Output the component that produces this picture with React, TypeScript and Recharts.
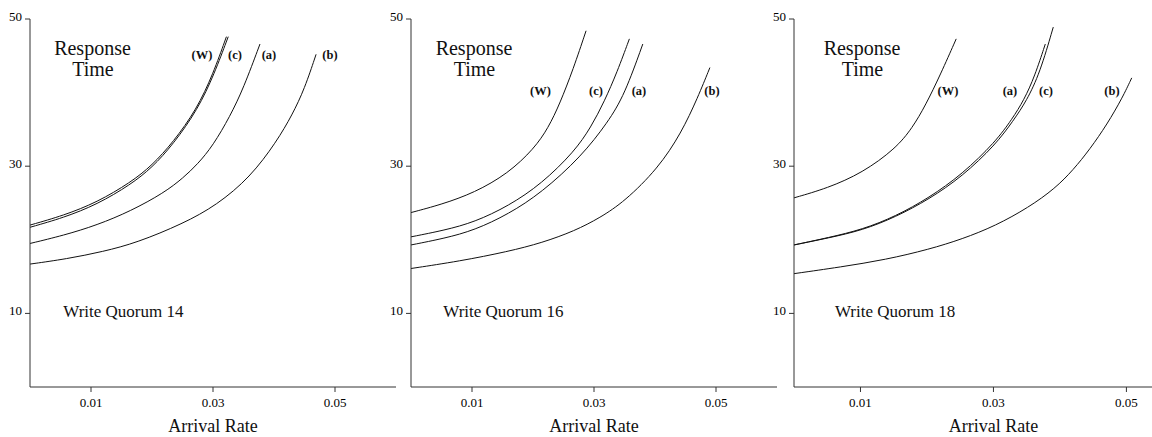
import React from 'react';
import { LineChart, Line, XAxis, YAxis } from 'recharts';

// ---------- data ----------
const xTicks = [0.01, 0.03, 0.05];
const yTicks = [10, 30, 50];
const quorums = [14, 16, 18];

// Write Quorum 14
const q14W: [number, number][] = [[0, 22.0], [0.0055, 23.3], [0.011, 25.1], [0.0165, 27.8], [0.02, 30.1], [0.0235, 33.3], [0.0273, 37.7], [0.03, 42.5], [0.0322, 47.6]];
const q14C: [number, number][] = [[0, 21.7], [0.0055, 23.0], [0.011, 24.8], [0.0165, 27.5], [0.02, 29.8], [0.0235, 33.0], [0.0275, 37.7], [0.0302, 42.5], [0.0325, 47.6]];
const q14A: [number, number][] = [[0, 19.5], [0.0055, 20.6], [0.011, 22.0], [0.0165, 23.9], [0.022, 26.4], [0.0251, 28.4], [0.0275, 30.3], [0.03, 32.8], [0.0328, 36.8], [0.035, 40.6], [0.0377, 46.6]];
const q14B: [number, number][] = [[0, 16.7], [0.006, 17.4], [0.012, 18.4], [0.0175, 19.6], [0.0251, 22.2], [0.0306, 24.7], [0.0361, 28.5], [0.0404, 33.3], [0.043, 37.0], [0.045, 40.5], [0.0469, 45.2]];

// Write Quorum 16
const q16W: [number, number][] = [[0, 23.7], [0.005, 24.8], [0.0104, 26.4], [0.0159, 29.0], [0.0202, 32.4], [0.0225, 35.2], [0.0244, 38.5], [0.0266, 43.2], [0.0287, 48.4]];
const q16C: [number, number][] = [[0, 20.4], [0.0055, 21.3], [0.0104, 22.4], [0.016, 24.6], [0.0214, 27.6], [0.0268, 32.0], [0.0295, 35.3], [0.0317, 38.8], [0.0338, 42.8], [0.0358, 47.3]];
const q16A: [number, number][] = [[0, 19.3], [0.0055, 20.2], [0.0104, 21.3], [0.016, 23.5], [0.0214, 26.4], [0.0279, 31.3], [0.0323, 36.0], [0.035, 39.7], [0.038, 46.6]];
const q16B: [number, number][] = [[0, 16.1], [0.008, 17.1], [0.0159, 18.4], [0.0215, 19.6], [0.0268, 21.2], [0.031, 23.0], [0.035, 25.2], [0.0405, 29.7], [0.0443, 34.5], [0.047, 39.3], [0.049, 43.4]];

// Write Quorum 18
const q18W: [number, number][] = [[0, 25.7], [0.005, 27.0], [0.0103, 29.1], [0.0153, 32.4], [0.0178, 35.2], [0.0198, 38.3], [0.022, 42.4], [0.0244, 47.3]];
const q18A: [number, number][] = [[0, 19.3], [0.0052, 20.3], [0.0103, 21.4], [0.0153, 23.2], [0.0203, 25.7], [0.0253, 28.9], [0.0303, 33.3], [0.0328, 36.4], [0.0346, 39.0], [0.0362, 42.2], [0.0378, 46.6]];
const q18C: [number, number][] = [[0, 19.3], [0.0052, 20.25], [0.0103, 21.3], [0.0153, 23.1], [0.0203, 25.5], [0.0253, 28.6], [0.0303, 32.9], [0.033, 36.2], [0.035, 38.9], [0.037, 42.7], [0.039, 48.9]];
const q18B: [number, number][] = [[0, 15.4], [0.007, 16.3], [0.0138, 17.3], [0.0203, 18.7], [0.0253, 20.1], [0.0303, 21.9], [0.0353, 24.4], [0.0393, 27.0], [0.042, 29.5], [0.0445, 32.3], [0.0471, 35.7], [0.0494, 39.3], [0.0508, 42.0]];

const seriesByPanel = [
  { W: q14W, c: q14C, a: q14A, b: q14B },
  { W: q16W, c: q16C, a: q16A, b: q16B },
  { W: q18W, c: q18C, a: q18A, b: q18B },
];

// ---------- layout ----------
const FONT = '"Liberation Serif", "Times New Roman", Times, serif';
const H = 437;
const panels = [
  { left: 0, yw: 30, width: 396, xMax: 0.06, titleX: 92.5, wqX: 63.3, arrX: 213, labelY: 58.5, labels: { W: 202, c: 235, a: 269, b: 330 } },
  { left: 380, yw: 31, width: 397, xMax: 0.06, titleX: 474, wqX: 443.3, arrX: 594, labelY: 95, labels: { W: 540.5, c: 596, a: 639, b: 712 } },
  { left: 760, yw: 34, width: 393, xMax: 0.054, titleX: 862, wqX: 835, arrX: 993.5, labelY: 95, labels: { W: 948, a: 1010, c: 1046, b: 1112 } },
];

const toObjs = (arr: [number, number][]) => arr.map(([x, y]) => ({ x, y }));
const fmt = (v: number) => v.toFixed(2);

const XTick = (props: any) => {
  const { x, y, payload } = props;
  return (
    <text x={x} y={y + 13} textAnchor="middle" fontFamily={FONT} fontSize={13} fill="#000">
      {fmt(payload.value)}
    </text>
  );
};
const YTick = (props: any) => {
  const { x, y, payload } = props;
  return (
    <text x={x - 1} y={y + 2} textAnchor="end" fontFamily={FONT} fontSize={13} fill="#000">
      {payload.value}
    </text>
  );
};

function Panel({ idx }: { idx: number }) {
  const p = panels[idx];
  const s = seriesByPanel[idx];
  const keys = ['W', 'c', 'a', 'b'] as const;
  return (
    <div style={{ position: 'absolute', left: p.left, top: 0 }}>
      <LineChart width={p.width} height={H} margin={{ top: 19, right: 0, bottom: 0, left: 0 }}>
        <XAxis
          type="number"
          dataKey="x"
          domain={[0, p.xMax]}
          ticks={xTicks}
          allowDataOverflow
          height={50}
          tickSize={5}
          tickMargin={2}
          stroke="#333"
          tick={<XTick />}
        />
        <YAxis
          type="number"
          domain={[0, 50]}
          ticks={yTicks}
          width={p.yw}
          tickSize={5}
          tickMargin={2}
          stroke="#333"
          allowDataOverflow
          tick={<YTick />}
        />
        {keys.map((k) => (
          <Line
            key={k}
            data={toObjs(s[k])}
            dataKey="y"
            type="basis"
            stroke="#111"
            strokeWidth={1}
            dot={false}
            activeDot={false}
            isAnimationActive={false}
          />
        ))}
      </LineChart>
    </div>
  );
}

export default function App() {
  return (
    <div style={{ position: 'absolute', left: 0, top: 0, width: 1152, height: H, background: '#fff', overflow: 'hidden' }}>
      {panels.map((_, i) => (
        <Panel key={i} idx={i} />
      ))}
      <svg width={1152} height={H} style={{ position: 'absolute', left: 0, top: 0, pointerEvents: 'none' }}>
        {panels.map((p, i) => (
          <g key={i} fontFamily={FONT} fill="#111">
            <text x={p.titleX} y={55} fontSize={20} textAnchor="middle">Response</text>
            <text x={p.titleX + 0.5} y={76} fontSize={20} textAnchor="middle">Time</text>
            <text x={p.wqX} y={317} fontSize={17}>{`Write Quorum ${quorums[i]}`}</text>
            <text x={p.arrX} y={432} fontSize={18} textAnchor="middle">Arrival Rate</text>
            {Object.entries(p.labels).map(([k, x]) => (
              <text key={k} x={x} y={p.labelY} fontSize={12.5} fontWeight="bold" textAnchor="middle">{`(${k})`}</text>
            ))}
          </g>
        ))}
      </svg>
    </div>
  );
}
